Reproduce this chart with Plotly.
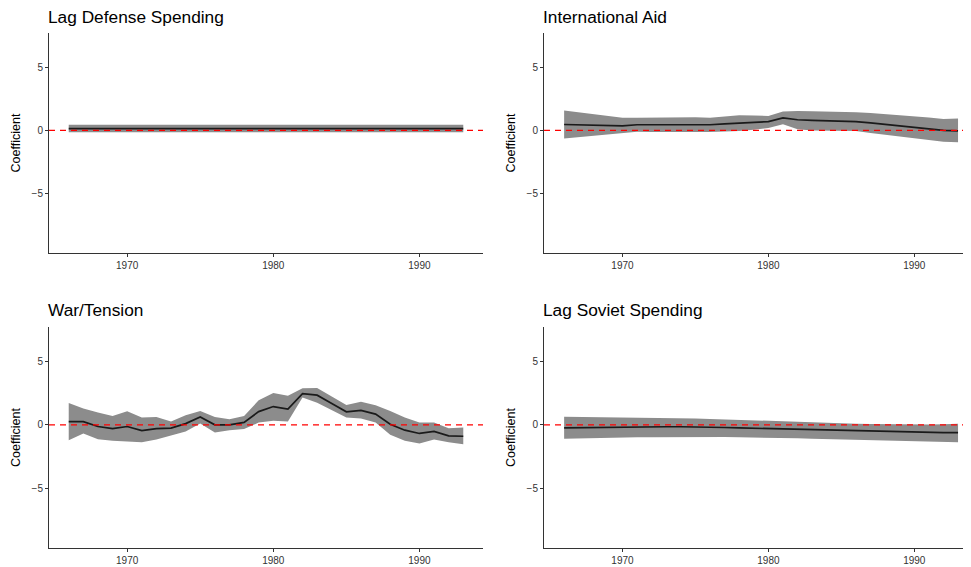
import plotly.graph_objects as go

years = list(range(1966, 1994))

panel_titles = ["Lag Defense Spending", "International Aid", "War/Tension", "Lag Soviet Spending"]
x_tick_vals = [1970, 1980, 1990]
y_tick_vals = [-5, 0, 5]

defense_mean = [0.15, 0.15, 0.15, 0.15, 0.15, 0.15, 0.15, 0.15, 0.15, 0.15, 0.15, 0.15, 0.15, 0.15,
                0.16, 0.16, 0.16, 0.16, 0.16, 0.16, 0.16, 0.15, 0.15, 0.15, 0.15, 0.15, 0.15, 0.15]
defense_upper = [0.45, 0.45, 0.45, 0.45, 0.45, 0.45, 0.45, 0.45, 0.45, 0.45, 0.45, 0.45, 0.45, 0.45,
                 0.44, 0.44, 0.44, 0.44, 0.44, 0.44, 0.44, 0.45, 0.45, 0.45, 0.45, 0.45, 0.45, 0.45]
defense_lower = [-0.15, -0.15, -0.15, -0.15, -0.15, -0.15, -0.15, -0.15, -0.15, -0.15, -0.15, -0.15, -0.15, -0.15,
                 -0.12, -0.12, -0.12, -0.12, -0.12, -0.12, -0.12, -0.15, -0.15, -0.15, -0.15, -0.15, -0.15, -0.15]

aid_mean = [0.47, 0.45, 0.42, 0.40, 0.37, 0.45, 0.46, 0.46, 0.46, 0.46, 0.45, 0.52, 0.60, 0.62,
            0.70, 1.00, 0.85, 0.80, 0.78, 0.75, 0.70, 0.60, 0.50, 0.38, 0.25, 0.12, 0.00, -0.03]
aid_upper = [1.58, 1.44, 1.30, 1.15, 1.00, 1.00, 1.02, 1.03, 1.04, 1.05, 1.00, 1.10, 1.20, 1.18,
             1.15, 1.50, 1.55, 1.52, 1.50, 1.48, 1.45, 1.38, 1.30, 1.22, 1.15, 1.02, 0.90, 0.95]
aid_lower = [-0.65, -0.54, -0.42, -0.31, -0.20, -0.10, -0.12, -0.13, -0.14, -0.15, -0.12, -0.08, -0.05, 0.05,
             0.20, 0.50, 0.10, 0.00, -0.02, -0.04, -0.05, -0.20, -0.35, -0.50, -0.65, -0.78, -0.90, -0.95]

war_mean = [0.26, 0.26, -0.13, -0.30, -0.13, -0.45, -0.30, -0.26, 0.10, 0.63, 0.00, 0.00, 0.20, 1.05,
            1.45, 1.25, 2.47, 2.35, 1.70, 1.03, 1.15, 0.85, 0.05, -0.42, -0.68, -0.52, -0.87, -0.90]
war_upper = [1.74, 1.30, 0.97, 0.71, 1.08, 0.58, 0.63, 0.26, 0.76, 1.10, 0.63, 0.45, 0.71, 1.95,
             2.53, 2.30, 2.90, 2.92, 2.24, 1.58, 1.84, 1.55, 1.10, 0.58, 0.18, 0.18, -0.26, -0.21]
war_lower = [-1.21, -0.68, -1.13, -1.26, -1.32, -1.37, -1.16, -0.87, -0.53, 0.10, -0.60, -0.42, -0.32, 0.18,
             0.32, 0.26, 2.16, 1.76, 1.16, 0.58, 0.50, 0.18, -0.79, -1.26, -1.47, -1.16, -1.37, -1.53]

soviet_mean = [-0.24, -0.22, -0.19, -0.17, -0.15, -0.15, -0.15, -0.15, -0.15, -0.15, -0.18, -0.21, -0.24, -0.27,
               -0.30, -0.33, -0.36, -0.39, -0.42, -0.45, -0.48, -0.51, -0.54, -0.57, -0.60, -0.61, -0.62, -0.62]
soviet_upper = [0.65, 0.64, 0.63, 0.61, 0.60, 0.58, 0.56, 0.54, 0.52, 0.50, 0.47, 0.44, 0.41, 0.38,
                0.35, 0.30, 0.25, 0.20, 0.15, 0.10, 0.08, 0.06, 0.04, 0.02, 0.00, 0.02, 0.05, 0.08]
soviet_lower = [-1.10, -1.07, -1.05, -1.02, -1.00, -0.99, -0.98, -0.97, -0.96, -0.95, -0.96, -0.97, -0.98, -0.99,
                -1.00, -1.03, -1.06, -1.09, -1.12, -1.15, -1.17, -1.19, -1.21, -1.23, -1.25, -1.29, -1.33, -1.38]

series = [
    (defense_mean, defense_lower, defense_upper),
    (aid_mean, aid_lower, aid_upper),
    (war_mean, war_lower, war_upper),
    (soviet_mean, soviet_lower, soviet_upper),
]

# page body has an 8px margin: figure is placed at (8, 8)
OFF = 8
W, H = 971 - OFF, 567 - OFF


def px_x(p):
    return (p - OFF) / W


def px_y(p):
    return 1 - (p - OFF) / H


x_domains = [[px_x(49), px_x(483)], [px_x(544), px_x(970)], [px_x(49), px_x(483)], [px_x(544), px_x(970)]]
# right-hand panels are cut off by the image edge in the reference
x_ranges = [[1964.65, 1994.35], [1964.62, 1993.82], [1964.65, 1994.35], [1964.62, 1993.82]]
y_domains = [[px_y(253), px_y(33)], [px_y(253), px_y(33)],
             [px_y(548), px_y(327)], [px_y(548), px_y(327)]]
title_page_y = [17, 17, 310, 310]

FONT = "Liberation Sans, Arial, Helvetica, sans-serif"
fig = go.Figure()
layout = dict(
    width=W, height=H,
    margin=dict(l=0, r=0, t=0, b=0),
    paper_bgcolor="white", plot_bgcolor="white",
    showlegend=False,
    font=dict(family=FONT, color="black"),
    annotations=[],
)

for i, (mean, lower, upper) in enumerate(series):
    ax = "" if i == 0 else str(i + 1)
    xr, yr = "x" + ax, "y" + ax
    fig.add_trace(go.Scatter(x=years, y=lower, mode="lines", line=dict(width=0),
                             hoverinfo="skip", xaxis=xr, yaxis=yr))
    fig.add_trace(go.Scatter(x=years, y=upper, mode="lines", line=dict(width=0),
                             fill="tonexty", fillcolor="#8c8c8c", hoverinfo="skip",
                             xaxis=xr, yaxis=yr))
    fig.add_trace(go.Scatter(x=years, y=mean, mode="lines",
                             line=dict(color="#1a1a1a", width=1.7), xaxis=xr, yaxis=yr))
    fig.add_trace(go.Scatter(x=x_ranges[i], y=[0, 0], mode="lines",
                             line=dict(color="#ff0000", width=1.3, dash="6px,5px"),
                             hoverinfo="skip", xaxis=xr, yaxis=yr))
    layout["xaxis" + ax] = dict(
        domain=x_domains[i], range=x_ranges[i], anchor=yr,
        tickvals=x_tick_vals, ticks="outside", ticklen=3, tickcolor="#333333",
        showline=True, linecolor="#333333", linewidth=1, showgrid=False, zeroline=False,
        tickfont=dict(size=10, color="#333333"),
    )
    layout["yaxis" + ax] = dict(
        domain=y_domains[i], range=[-9.75, 7.75], anchor=xr,
        tickvals=y_tick_vals, ticktext=["\u22125", "0", "5"], ticks="outside", ticklen=3,
        tickcolor="#333333", showline=True, linecolor="#333333", linewidth=1,
        showgrid=False, zeroline=False,
        tickfont=dict(size=10, color="#333333"),
        title=dict(text="Coefficient", font=dict(size=12.5), standoff=8),
    )
    layout["annotations"].append(dict(
        text=panel_titles[i], xref="paper", yref="paper",
        x=x_domains[i][0], y=px_y(title_page_y[i]),
        xanchor="left", yanchor="middle", showarrow=False, xshift=-2,
        borderpad=0,
        font=dict(size=17.3, color="black"),
    ))

fig.update_layout(**layout)
fig.write_html("out.html")
